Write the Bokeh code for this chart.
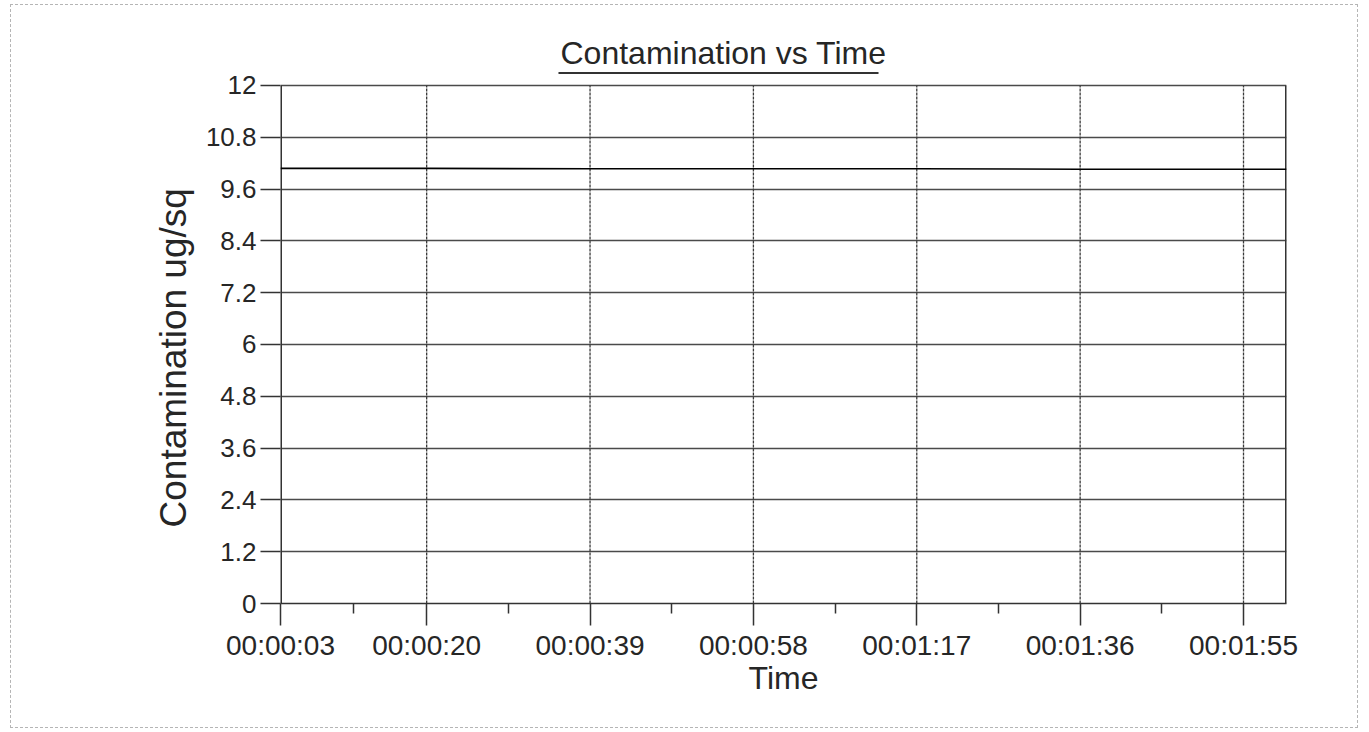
from bokeh.plotting import figure
from bokeh.models import FixedTicker, Range1d, Title
from bokeh.embed import file_html
from bokeh.resources import INLINE

# ---- data (seconds since start, contamination ug/sq) ----
time_s = [3, 20, 39, 58, 77, 96, 115, 120]
contamination = [10.08, 10.08, 10.07, 10.07, 10.07, 10.06, 10.06, 10.06]

x_ticks = [3, 20, 39, 58, 77, 96, 115]
x_tick_labels = ["00:00:03", "00:00:20", "00:00:39", "00:00:58",
                 "00:01:17", "00:01:36", "00:01:55"]
x_minor_ticks = [11.5, 29.5, 48.5, 67.5, 86.5, 105.5]
y_ticks = [0, 1.2, 2.4, 3.6, 4.8, 6, 7.2, 8.4, 9.6, 10.8, 12]
y_tick_labels = ["0", "1.2", "2.4", "3.6", "4.8", "6", "7.2", "8.4", "9.6", "10.8", "12"]

title_text = "Contamination vs Time"
x_label = "Time"
y_label = "Contamination ug/sq"

# plot extents
X_MIN, X_MAX = 3, 120
Y_MIN, Y_MAX = 0, 12
Y_TOP = 12.347          # frame reaches up to just above the title underline
UNDERLINE_X = (35.33, 72.55)
UNDERLINE_Y = 12.29

FONT = "Liberation Sans"
TXT = "#262626"
GRID = "#4a4a4a"
EDGE = "#333333"

p = figure(width=1348, height=724, output_backend="svg", toolbar_location=None,
           x_range=Range1d(X_MIN, X_MAX), y_range=Range1d(Y_MIN, Y_TOP),
           min_border_left=269, min_border_right=73,
           min_border_top=65, min_border_bottom=126)
p.title = None

t = Title(text=title_text, align="left", offset=280, text_font=FONT,
          text_font_size="32px", text_font_style="normal", text_color=TXT,
          standoff=0)
p.add_layout(t, "above")

# y axis title as a side title (lets it sit a little below the frame centre)
yt = Title(text=y_label, align="left", offset=76, text_font=FONT,
           text_font_size="37px", text_font_style="normal", text_color=TXT,
           standoff=18)
p.add_layout(yt, "left")

p.outline_line_color = None
p.background_fill_color = "white"
p.border_fill_color = "white"

# grids: horizontal from the axis ticker, vertical drawn at the x ticks
p.xgrid.visible = False
p.ygrid.grid_line_color = GRID
p.ygrid.grid_line_width = 1.3
p.segment(x0=x_ticks[1:], y0=[Y_MIN] * (len(x_ticks) - 1),
          x1=x_ticks[1:], y1=[Y_MAX] * (len(x_ticks) - 1),
          line_color="#3a3a3a", line_width=1.3, line_dash="3 1")

# frame sides
p.segment(x0=[X_MIN, X_MAX], y0=[Y_MIN, Y_MIN], x1=[X_MIN, X_MAX], y1=[Y_MAX, Y_MAX],
          line_color=EDGE, line_width=3)

# data
p.line(time_s, contamination, line_color="black", line_width=1.6)

# title underline
p.segment(x0=[UNDERLINE_X[0]], y0=[UNDERLINE_Y], x1=[UNDERLINE_X[1]], y1=[UNDERLINE_Y],
          line_color=EDGE, line_width=2)

# x axis
xa = p.xaxis[0]
xa.ticker = FixedTicker(ticks=x_ticks, minor_ticks=x_minor_ticks)
xa.major_label_overrides = {k: v for k, v in zip(x_ticks, x_tick_labels)}
xa.major_tick_out = 22
xa.major_tick_in = 0
xa.minor_tick_out = 10
xa.minor_tick_in = 0
xa.major_tick_line_color = EDGE
xa.minor_tick_line_color = EDGE
xa.major_tick_line_width = 1.5
xa.minor_tick_line_width = 1.5
xa.axis_line_color = EDGE
xa.axis_line_width = 1.5
xa.major_label_text_font = FONT
xa.major_label_text_font_size = "28px"
xa.major_label_text_color = TXT
xa.major_label_standoff = 4
xa.axis_label = x_label
xa.axis_label_text_font = FONT
xa.axis_label_text_font_size = "32px"
xa.axis_label_text_font_style = "normal"
xa.axis_label_text_color = TXT
xa.axis_label_standoff = -4

# y axis
ya = p.yaxis[0]
ya.bounds = (Y_MIN, Y_MAX)
ya.ticker = FixedTicker(ticks=y_ticks, minor_ticks=[])
ya.major_label_overrides = {k: v for k, v in zip(y_ticks, y_tick_labels)}
ya.major_tick_out = 20
ya.major_tick_in = 0
ya.minor_tick_out = 0
ya.minor_tick_in = 0
ya.major_tick_line_color = EDGE
ya.major_tick_line_width = 1.5
ya.axis_line_color = None
ya.major_label_text_font = FONT
ya.major_label_text_font_size = "26px"
ya.major_label_text_color = TXT
ya.major_label_standoff = 4

p.styles = {"border": "1px dashed #b5b5b5", "margin": "4px 0 0 10px"}

open("out.html", "w").write(file_html(p, INLINE))
